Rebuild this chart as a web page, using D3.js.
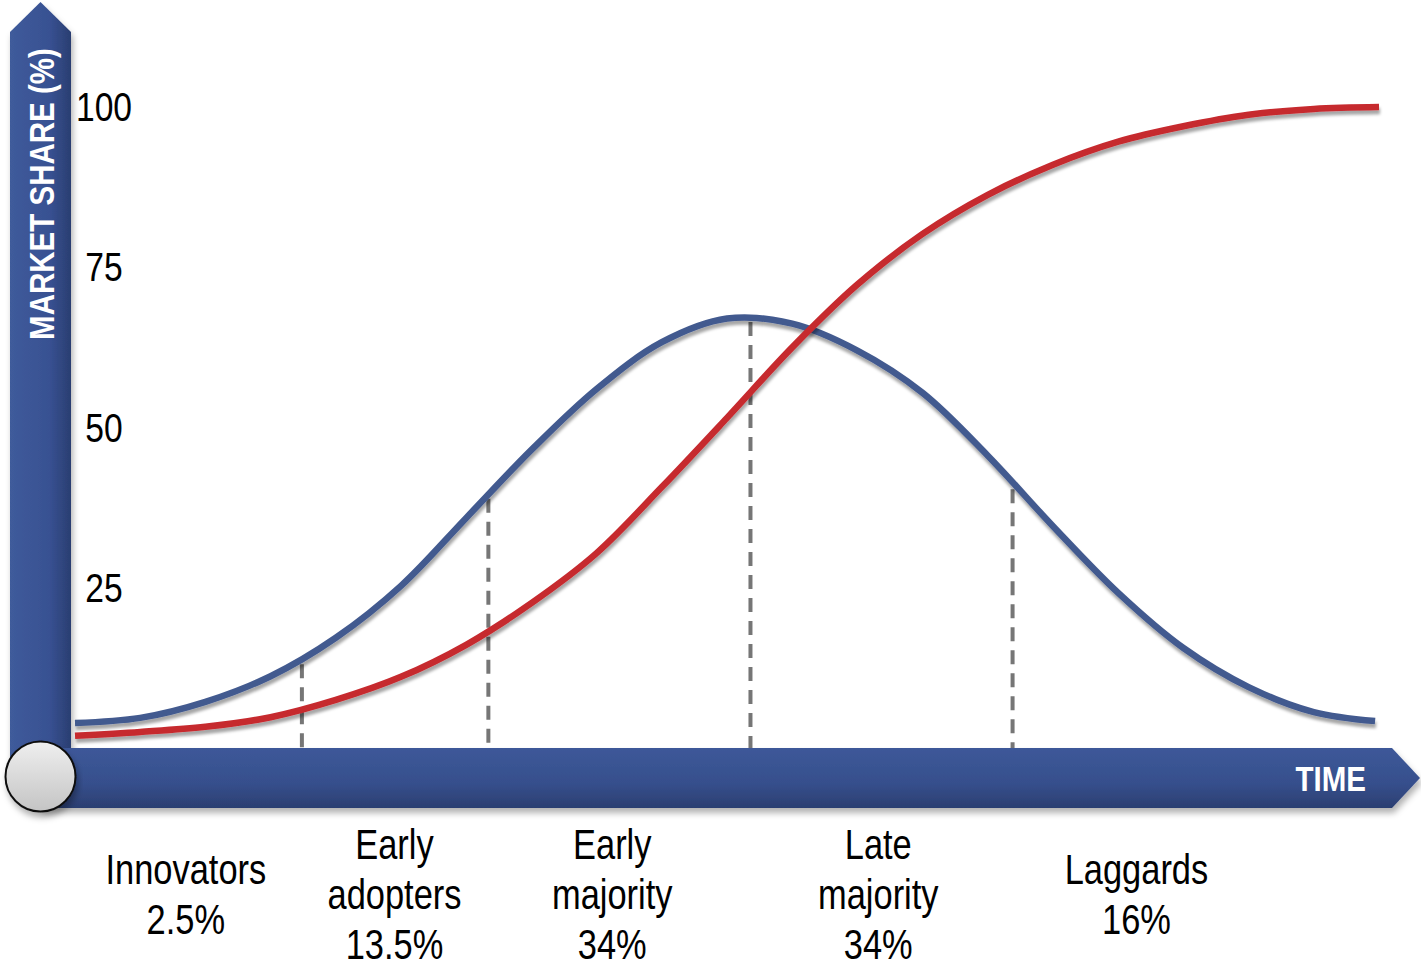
<!DOCTYPE html>
<html>
<head>
<meta charset="utf-8">
<script src="https://cdn.jsdelivr.net/npm/d3@7/dist/d3.min.js"></script>
<style>
  html, body { margin: 0; padding: 0; background: #fff; }
  svg { display: block; }
</style>
</head>
<body>
<script>
// ---- data ----
const timePoints   = [0, 5, 10, 15, 20, 25, 30, 35, 40, 45, 50, 55, 60, 65, 70, 75, 80, 85, 90, 95, 99.7];
const adoptionRate = [3.9, 4.7, 7.2, 11.2, 17.2, 25.3, 35.9, 46.5, 56.0, 63.3, 67.0, 66.2, 62.0, 55.4, 45.6, 34.6, 24.2, 15.6, 9.5, 5.6, 4.2];
const redTime      = [0, 5, 10, 15, 20, 25, 30, 35, 40, 45, 50, 55, 60, 65, 70, 75, 80, 85, 90, 95, 100];
const marketShare  = [1.9, 2.5, 3.3, 4.8, 7.5, 11.1, 16.1, 22.6, 30.4, 40.7, 51.5, 62.5, 72.3, 80.2, 86.3, 91.0, 94.6, 97.0, 98.8, 99.7, 100];
const boundaryTime   = [17.4, 31.7, 51.8, 71.9];
const boundaryValue  = [13.7, 39.5, 67.1, 41.0];
const categories     = [["Innovators", "2.5%"], ["Early", "adopters", "13.5%"], ["Early", "majority", "34%"], ["Late", "majority", "34%"], ["Laggards", "16%"]];
const categoryTime   = [8.5, 24.5, 41.2, 61.6, 81.4];
const yTicks         = [25, 50, 75, 100];
const yAxisTitle     = "MARKET SHARE (%)";
const xAxisTitle     = "TIME";

// ---- layout ----
const W = 1421, H = 967;
const x = d3.scaleLinear().domain([0, 100]).range([75, 1379]);
const y = d3.scaleLinear().domain([0, 100]).range([748, 107]);
const font = "'Liberation Sans Narrow', 'Arial Narrow', 'Liberation Sans', sans-serif";
const narrow = 0.82;

const svg = d3.select("body").append("svg").attr("width", W).attr("height", H);
const defs = svg.append("defs");

const vg = defs.append("linearGradient").attr("id", "vgrad").attr("x1", "0").attr("x2", "1").attr("y1", "0").attr("y2", "0");
vg.append("stop").attr("offset", "0").attr("stop-color", "#3f5b9b");
vg.append("stop").attr("offset", "0.65").attr("stop-color", "#385192");
vg.append("stop").attr("offset", "1").attr("stop-color", "#2a3e71");

const hg = defs.append("linearGradient").attr("id", "hgrad").attr("x1", "0").attr("x2", "0").attr("y1", "0").attr("y2", "1");
hg.append("stop").attr("offset", "0").attr("stop-color", "#3d5899");
hg.append("stop").attr("offset", "0.6").attr("stop-color", "#364f8c");
hg.append("stop").attr("offset", "1").attr("stop-color", "#2b3e71");

const cg = defs.append("linearGradient").attr("id", "cgrad").attr("x1", "0").attr("x2", "0").attr("y1", "0").attr("y2", "1");
cg.append("stop").attr("offset", "0").attr("stop-color", "#efefef");
cg.append("stop").attr("offset", "1").attr("stop-color", "#c4c4c4");

const fs = defs.append("filter").attr("id", "lineShadow").attr("x", "-5%").attr("y", "-10%").attr("width", "110%").attr("height", "130%");
fs.append("feDropShadow").attr("dx", 1).attr("dy", 4).attr("stdDeviation", 1.8).attr("flood-color", "#000").attr("flood-opacity", 0.35);

const bs = defs.append("filter").attr("id", "barShadow").attr("x", "-10%").attr("y", "-10%").attr("width", "120%").attr("height", "130%");
bs.append("feDropShadow").attr("dx", 2).attr("dy", 5).attr("stdDeviation", 3).attr("flood-color", "#000").attr("flood-opacity", 0.3);

// ---- axes arrows (decorative frame) ----
const axisG = svg.append("g").attr("filter", "url(#barShadow)");
const xl = 10, xr = 71, tipY = 2, shoulder = 32;
axisG.append("path")
  .attr("d", `M${xl},${shoulder} L${(xl + xr) / 2},${tipY} L${xr},${shoulder} L${xr},${y(0) + 30} L${xl},${y(0) + 30} Z`)
  .attr("fill", "url(#vgrad)");
const hb = y(0), hbB = y(0) + 60;
axisG.append("path")
  .attr("d", `M40,${hb} L1392,${hb} L1420,${(hb + hbB) / 2} L1392,${hbB} L40,${hbB} Z`)
  .attr("fill", "url(#hgrad)");

svg.append("circle").attr("cx", 40.5).attr("cy", 776.5).attr("r", 35)
  .attr("fill", "url(#cgrad)").attr("stroke", "#111").attr("stroke-width", 2)
  .attr("filter", "url(#barShadow)");

svg.append("text")
  .attr("transform", `translate(41,194) rotate(-90) scale(${narrow},1)`)
  .attr("text-anchor", "middle").attr("dominant-baseline", "central")
  .attr("font-family", font).attr("font-weight", "bold").attr("font-size", 36)
  .attr("fill", "#fff").text(yAxisTitle);

svg.append("text")
  .attr("transform", `translate(1366,778) scale(${narrow},1)`)
  .attr("text-anchor", "end").attr("dominant-baseline", "central")
  .attr("font-family", font).attr("font-weight", "bold").attr("font-size", 36)
  .attr("fill", "#fff").text(xAxisTitle);

// ---- y tick labels ----
svg.append("g").selectAll("text").data(yTicks).join("text")
  .attr("transform", d => `translate(104,${y(d)}) scale(${narrow},1)`)
  .attr("text-anchor", "middle").attr("dominant-baseline", "central")
  .attr("font-family", font).attr("font-size", 41).attr("fill", "#000")
  .text(d => d);

// ---- dashed boundaries ----
svg.append("g").selectAll("line").data(boundaryTime).join("line")
  .attr("x1", d => x(d)).attr("x2", d => x(d))
  .attr("y1", (d, i) => y(boundaryValue[i]) + 4).attr("y2", y(0))
  .attr("stroke", "#767676").attr("stroke-width", 4)
  .attr("stroke-dasharray", "14 9");

// ---- curves ----
const line = d3.line().curve(d3.curveCatmullRom.alpha(0.5)).x(d => x(d[0])).y(d => y(d[1]));
svg.append("path")
  .datum(timePoints.map((t, i) => [t, adoptionRate[i]]))
  .attr("d", line).attr("fill", "none")
  .attr("stroke", "#435a8f").attr("stroke-width", 6.5)
  .attr("filter", "url(#lineShadow)");
svg.append("path")
  .datum(redTime.map((t, i) => [t, marketShare[i]]))
  .attr("d", line).attr("fill", "none")
  .attr("stroke", "#c6292f").attr("stroke-width", 6.5)
  .attr("filter", "url(#lineShadow)");

// ---- category labels ----
const labG = svg.append("g");
categories.forEach((lines, i) => {
  lines.forEach((s, j) => {
    labG.append("text")
      .attr("transform", `translate(${x(categoryTime[i])},${909 + (j - (lines.length - 1) / 2) * 50}) scale(${narrow},1)`)
      .attr("text-anchor", "middle")
      .attr("font-family", font).attr("font-size", 42).attr("fill", "#000")
      .text(s);
  });
});
</script>
</body>
</html>
